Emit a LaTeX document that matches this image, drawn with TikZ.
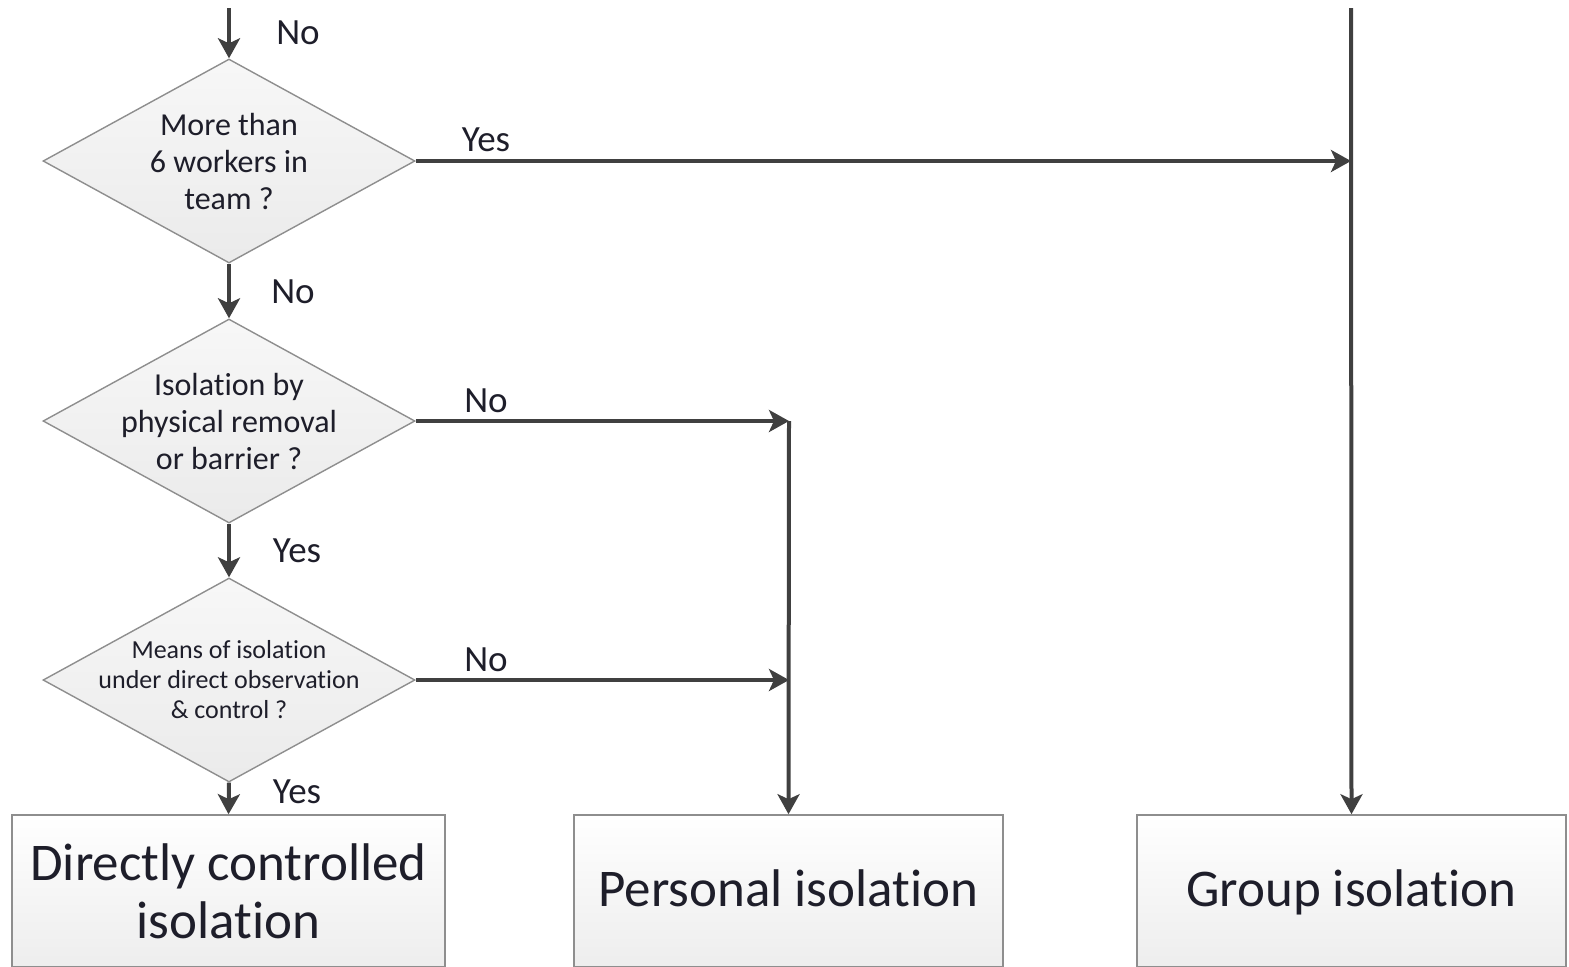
\documentclass[tikz,border=0pt]{standalone}
\usepackage{fontspec}
\setmainfont{Carlito}[Ligatures=NoCommon]
\usetikzlibrary{shapes.geometric,arrows.meta}
\definecolor{linec}{HTML}{404040}
\definecolor{edgec}{HTML}{8E8E8E}
\definecolor{txtc}{HTML}{1E1E2A}
\begin{document}
\begin{tikzpicture}[x=0.5pt,y=-0.5pt,
  every node/.style={text=txtc},
  decision/.style={diamond,draw=edgec,line width=0.7pt,
    top color=white!97!black,bottom color=white!92!black,
    minimum width=186pt,minimum height=102pt,inner sep=0pt,aspect=1.82},
  dtext/.style={align=center,inner sep=0pt,font=\fontsize{16}{18.5}\selectfont},
  dsmall/.style={align=center,inner sep=0pt,font=\fontsize{13}{15}\selectfont},
  outcome/.style={rectangle,draw=edgec,line width=0.8pt,
    top color=white,bottom color=white!93!black,
    minimum height=76pt,inner sep=0pt,align=center,
    font=\fontsize{26.5}{29}\selectfont},
  oneline/.style={text height=20pt,text depth=5pt},
  lbl/.style={font=\fontsize{18.5}{20}\selectfont,inner sep=0pt},
  arr/.style={draw=linec,line width=2pt,
    -{Stealth[length=10pt,width=11pt,inset=2.5pt]}}]
\useasboundingbox (0,0) rectangle (1569,966);
\clip (0,0) rectangle (1569,966);

% decisions (fixed size; the question is set as a centred label)
\node[decision,label={[dtext]center:More than\\6 workers in\\team ?}] (d1) at (229,161) {};
\node[decision,label={[dtext]center:Isolation by\\physical removal\\or barrier ?}] (d2) at (229,421) {};
\node[decision,label={[dsmall]center:Means of isolation\\under direct observation\\\&\ control ?}] (d3) at (229,680) {};

% outcomes
\node[outcome,minimum width=216.5pt] (b1) at (228.5,891) {Directly controlled\\isolation};
\node[outcome,oneline,minimum width=214.5pt] (b2) at (788.5,891) {Personal isolation};
\node[outcome,oneline,minimum width=214.5pt] (b3) at (1351.5,891) {Group isolation};

% junction points
\coordinate (start) at (229,8);
\coordinate (gtop) at (1351,8);
\coordinate (g1) at (1351,161);
\coordinate (p1) at (789,421);
\coordinate (p2) at (789,680);

% connectors
\draw[arr] (start) -- (d1.north);
\draw[arr] (d1.south) -- (d2.north);
\draw[arr] (d2.south) -- (d3.north);
\draw[arr] (d3.south) -- (b1.north);
\draw[arr] (d1.east) -- (g1);
\draw[arr] (gtop) -- (b3.north);
\draw[arr] (d2.east) -- (p1);
\draw[arr] (d3.east) -- (p2);
\draw[arr] (p1) -- (b2.north);

% labels
\node[lbl] (l0) at (298,33) {No};
\node[lbl] (l1) at (293,292) {No};
\node[lbl] (l2) at (297,551) {Yes};
\node[lbl] (l3) at (297,792) {Yes};
\node[lbl] (l4) at (486,140) {Yes};
\node[lbl] (l5) at (486,401) {No};
\node[lbl] (l6) at (486,660) {No};
\end{tikzpicture}
\end{document}
